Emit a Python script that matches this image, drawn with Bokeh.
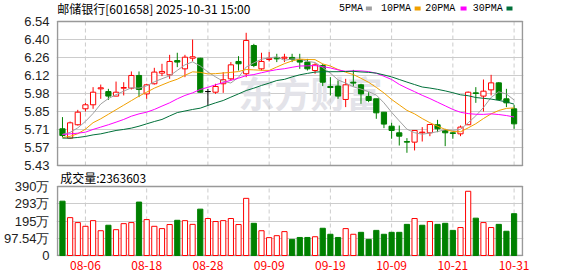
from bokeh.plotting import figure
from bokeh.models import Range1d, FixedTicker
from bokeh.embed import file_html
from bokeh.resources import INLINE
from bokeh.core.properties import value

# ---------------- data ----------------
dates = ["08-01", "08-04", "08-05", "08-06", "08-07", "08-08", "08-11", "08-12", "08-13", "08-14",
         "08-15", "08-18", "08-19", "08-20", "08-21", "08-22", "08-25", "08-26", "08-27", "08-28",
         "08-29", "09-01", "09-02", "09-03", "09-04", "09-05", "09-08", "09-09", "09-10", "09-11",
         "09-12", "09-15", "09-16", "09-17", "09-18", "09-19", "09-22", "09-23", "09-24", "09-25",
         "09-26", "09-29", "09-30", "10-09", "10-10", "10-13", "10-14", "10-15", "10-16", "10-17",
         "10-20", "10-21", "10-22", "10-23", "10-24", "10-27", "10-28", "10-29", "10-30", "10-31"]

opens = [5.713, 5.641, 5.744, 5.867, 5.898, 6.021, 6.000, 5.965, 6.026, 6.026,
         6.124, 5.982, 6.060, 6.142, 6.129, 6.239, 6.175, 6.257, 6.257, 6.000,
         5.995, 6.060, 6.098, 6.232, 6.137, 6.355, 6.175, 6.247, 6.263, 6.257,
         6.263, 6.247, 6.227, 6.162, 6.201, 6.039, 6.042, 5.939, 6.072, 6.052,
         5.962, 5.944, 5.841, 5.733, 5.682, 5.615, 5.610, 5.682, 5.682, 5.744,
         5.700, 5.682, 5.674, 5.744, 5.990, 5.965, 6.013, 6.067, 5.944, 5.867]
highs = [5.803, 5.769, 5.859, 5.913, 6.034, 6.054, 6.021, 6.077, 6.072, 6.155,
         6.155, 6.060, 6.183, 6.214, 6.283, 6.299, 6.283, 6.401, 6.260, 6.020,
         6.060, 6.150, 6.227, 6.273, 6.453, 6.368, 6.299, 6.304, 6.291, 6.291,
         6.291, 6.291, 6.252, 6.219, 6.214, 6.111, 6.085, 6.098, 6.167, 6.060,
         5.995, 5.944, 5.841, 5.759, 5.738, 5.641, 5.700, 5.726, 5.751, 5.782,
         5.713, 5.687, 5.738, 6.000, 6.034, 6.093, 6.129, 6.072, 6.021, 5.898]
lows = [5.648, 5.636, 5.738, 5.846, 5.867, 5.944, 5.936, 5.965, 5.970, 6.016,
        5.957, 5.944, 6.054, 6.119, 6.098, 6.188, 6.111, 6.232, 5.990, 5.890,
        5.982, 5.990, 6.085, 6.162, 6.111, 6.188, 6.162, 6.232, 6.227, 6.227,
        6.227, 6.175, 6.162, 6.137, 6.042, 5.970, 5.944, 5.880, 6.039, 5.906,
        5.918, 5.790, 5.718, 5.636, 5.584, 5.528, 5.546, 5.615, 5.656, 5.687,
        5.579, 5.636, 5.656, 5.744, 5.913, 5.846, 5.970, 5.931, 5.880, 5.713]
closes = [5.661, 5.759, 5.841, 5.898, 5.995, 6.029, 5.965, 5.995, 6.031, 6.124,
          6.016, 6.052, 6.150, 6.155, 6.232, 6.227, 6.265, 6.268, 5.995, 6.000,
          6.039, 6.091, 6.206, 6.214, 6.394, 6.201, 6.232, 6.257, 6.252, 6.265,
          6.247, 6.227, 6.175, 6.206, 6.072, 6.031, 5.965, 6.052, 6.065, 5.982,
          5.931, 5.836, 5.749, 5.700, 5.656, 5.610, 5.700, 5.687, 5.746, 5.713,
          5.682, 5.677, 5.726, 5.995, 5.985, 6.003, 6.067, 5.939, 5.913, 5.751]

ma5 = [5.670, 5.685, 5.720, 5.770, 5.831, 5.904, 5.946, 5.976, 6.003, 6.029,
       6.026, 6.044, 6.075, 6.099, 6.121, 6.163, 6.206, 6.229, 6.197, 6.151,
       6.113, 6.079, 6.066, 6.110, 6.189, 6.221, 6.249, 6.260, 6.267, 6.241,
       6.251, 6.250, 6.233, 6.224, 6.185, 6.142, 6.090, 6.065, 6.037, 6.019,
       5.999, 5.973, 5.913, 5.840, 5.774, 5.710, 5.683, 5.671, 5.680, 5.691,
       5.706, 5.701, 5.709, 5.759, 5.813, 5.877, 5.955, 5.998, 5.981, 5.935]
ma10 = [5.645, 5.655, 5.675, 5.710, 5.760, 5.790, 5.825, 5.860, 5.895, 5.930,
        5.965, 5.995, 6.026, 6.051, 6.075, 6.095, 6.125, 6.152, 6.148, 6.136,
        6.138, 6.143, 6.148, 6.154, 6.170, 6.167, 6.164, 6.163, 6.189, 6.215,
        6.236, 6.250, 6.247, 6.246, 6.213, 6.197, 6.170, 6.149, 6.131, 6.102,
        6.071, 6.032, 5.989, 5.939, 5.897, 5.855, 5.828, 5.792, 5.760, 5.733,
        5.708, 5.692, 5.690, 5.720, 5.752, 5.792, 5.828, 5.854, 5.870, 5.874]
ma20 = [5.669, 5.674, 5.679, 5.687, 5.708, 5.726, 5.744, 5.764, 5.785, 5.810,
        5.828, 5.841, 5.862, 5.888, 5.913, 5.944, 5.970, 5.990, 6.016, 6.033,
        6.052, 6.069, 6.087, 6.103, 6.123, 6.131, 6.145, 6.158, 6.169, 6.176,
        6.187, 6.197, 6.198, 6.200, 6.192, 6.182, 6.167, 6.156, 6.160, 6.159,
        6.154, 6.141, 6.118, 6.093, 6.055, 6.026, 5.999, 5.971, 5.946, 5.918,
        5.890, 5.862, 5.840, 5.830, 5.825, 5.824, 5.828, 5.823, 5.815, 5.804]
ma30 = [5.641, 5.641, 5.646, 5.654, 5.666, 5.674, 5.687, 5.700, 5.708, 5.718,
        5.733, 5.751, 5.769, 5.785, 5.812, 5.838, 5.850, 5.862, 5.872, 5.893,
        5.913, 5.931, 5.957, 5.982, 6.008, 6.026, 6.047, 6.065, 6.085, 6.094,
        6.113, 6.129, 6.140, 6.150, 6.153, 6.153, 6.153, 6.155, 6.156, 6.151,
        6.148, 6.142, 6.128, 6.113, 6.093, 6.073, 6.054, 6.035, 6.027, 6.017,
        6.005, 5.991, 5.975, 5.968, 5.954, 5.948, 5.942, 5.932, 5.920, 5.903]

# volume in 万 (10k shares); colour as drawn: "u" red hollow, "d" green filled
volumes = [307, 214, 186, 165, 197, 140, 171, 146, 180, 186,
           302, 203, 165, 152, 175, 199, 197, 176, 262, 209,
           192, 197, 209, 175, 323, 182, 140, 101, 112, 135,
           91, 102, 102, 106, 154, 120, 102, 152, 120, 131,
           91, 142, 120, 131, 131, 176, 209, 171, 192, 176,
           182, 142, 158, 363, 211, 186, 158, 176, 137, 236.36]
vol_dir = list("duuuuuduuu" "duuuuduudu" "uuuuuduuuu"
               "ddduddduud" "ddddddudud" "dduuduuddd")

tick_labels = ["08-06", "08-18", "08-28", "09-09", "09-19", "10-09", "10-21", "10-31"]
price_ticks = [5.43, 5.56875, 5.7075, 5.84625, 5.985, 6.12375, 6.2625, 6.40125, 6.54]
price_labels = ["5.43", "5.57", "5.71", "5.85", "5.98", "6.12", "6.26", "6.40", "6.54"]
vol_ticks = [0, 97.5, 195, 292.5, 390]
vol_labels = ["0", "97.54万", "195万", "293万", "390万"]

title_text = "邮储银行[601658] 2025-10-31 15:00"
vol_title = "成交量:2363603"
ma_names = ["5PMA", "10PMA", "20PMA", "30PMA"]
ma_colors = ["#a0a0a0", "#f0a000", "#ff00ff", "#00703a"]

# ---------------- styling / layout constants ----------------
UP = "#ff0000"
DOWN = "#008000"
FLAT = "#000000"
GRID = "#cccccc"
BORDER = "#999999"
LABEL_FONT = "Liberation Sans"
CJK_FONT = "Noto Sans CJK SC"
X_LEFT, X_RIGHT = -0.65, 60.1          # plot box edges (bar-index units)
# vertical layout in pixels (frame spans y = 0 .. 256)
PRICE_TOP_PX, PRICE_BOT_PX = 21, 165
VOL_TOP_PX, VOL_BOT_PX = 186, 255
FRAME_BOT_PX = 256
PX = (price_ticks[-1] - price_ticks[0]) / (PRICE_BOT_PX - PRICE_TOP_PX)
VPX = (vol_ticks[-1] - vol_ticks[0]) / (VOL_BOT_PX - VOL_TOP_PX)

def vol_to_price(v):
    # position of a volume value expressed on the (shared) price scale, for axis ticks
    py = VOL_BOT_PX - (v - vol_ticks[0]) / VPX
    return price_ticks[0] - (py - PRICE_BOT_PX) * PX

x = list(range(len(dates)))
x_ticks = [dates.index(t) for t in tick_labels]

cols = [UP if c > o else (DOWN if c < o else FLAT) for o, c in zip(opens, closes)]
fills = ["#ffffff" if c > o else col for o, c, col in zip(opens, closes, cols)]
tops = [max(o, c) for o, c in zip(opens, closes)]
bots = [min(o, c) for o, c in zip(opens, closes)]

vcols = [UP if d == "u" else DOWN for d in vol_dir]
vfills = ["#ffffff" if d == "u" else DOWN for d in vol_dir]

xr = Range1d(X_LEFT - 0.13, X_RIGHT + 0.13)
yr = Range1d(price_ticks[0] - (FRAME_BOT_PX - PRICE_BOT_PX) * PX, price_ticks[-1] + PRICE_TOP_PX * PX)
vr = Range1d(vol_ticks[0] - (FRAME_BOT_PX - VOL_BOT_PX) * VPX, vol_ticks[-1] + VOL_TOP_PX * VPX)

p = figure(width=578, height=276, x_range=xr, y_range=yr,
           output_backend="svg", toolbar_location=None,
           min_border_left=54, min_border_right=55, min_border_top=0, min_border_bottom=20)
p.extra_y_ranges = {"vol": vr}
p.outline_line_color = None
p.background_fill_color = "#ffffff"
p.border_fill_color = "#ffffff"

# y axis: price ticks (upper panel) + volume ticks (lower panel)
vol_tick_pos = [vol_to_price(v) for v in vol_ticks]
all_ticks = price_ticks + vol_tick_pos
all_labels = price_labels + vol_labels
p.yaxis.ticker = FixedTicker(ticks=all_ticks)
p.yaxis.major_label_overrides = dict(zip(all_ticks, all_labels))
p.yaxis.axis_line_color = None
p.yaxis.major_tick_line_color = None
p.yaxis.minor_tick_line_color = None
p.yaxis.major_label_standoff = 1
p.yaxis.major_label_text_font = LABEL_FONT
p.yaxis.major_label_text_font_size = "13px"
p.yaxis.major_label_text_color = "#222222"
p.ygrid.grid_line_color = GRID

# x axis: dates
p.xaxis.ticker = FixedTicker(ticks=x_ticks)
p.xaxis.major_label_overrides = dict(zip(x_ticks, tick_labels))
p.xaxis.axis_line_color = None
p.xaxis.major_tick_line_color = None
p.xaxis.minor_tick_line_color = None
p.xaxis.major_label_standoff = -2
p.xaxis.major_label_text_font = CJK_FONT
p.xaxis.major_label_text_font_size = "12px"
p.xaxis.major_label_text_color = UP
p.xgrid.visible = False

# watermark
p.text(x=[23.0], y=[6.0], text=["东方财富"], text_font=value(CJK_FONT),
       text_font_size="36px", text_font_style="bold", text_color="#e3e3e9",
       text_align="left", text_baseline="middle")

# price panel: dashed verticals + border
p.segment(x0=x_ticks, y0=price_ticks[0], x1=x_ticks, y1=price_ticks[-1],
          line_color=GRID, line_dash="4 3", line_width=1)
p.quad(left=X_LEFT, right=X_RIGHT, bottom=price_ticks[0], top=price_ticks[-1],
       fill_color=None, line_color=BORDER, line_width=1.5)

# candles
p.segment(x0=x, y0=lows, x1=x, y1=highs, line_color=cols, line_width=1)
p.vbar(x=x, width=0.68, top=tops, bottom=bots, fill_color=fills, line_color=cols, line_width=1)

# moving averages
for vals, c in zip([ma5, ma10, ma20, ma30], ma_colors):
    p.line(x, vals, line_color=c, line_width=1)

# header: title + legend
head_y = price_ticks[-1] + 13 * PX
p.text(x=[X_LEFT - 0.03], y=[head_y], text=[title_text], text_font=value(CJK_FONT),
       text_font_size="12px", text_color="#000000", text_baseline="middle", text_align="left")
p.text(x=[36.13, 41.6, 47.4, 53.6], y=[head_y] * 4, text=ma_names,
       text_font=value("Liberation Mono"), text_font_size="10px", text_color="#000000",
       text_baseline="middle", text_align="left")
p.rect(x=[40.03, 46.4, 52.4, 58.4], y=[head_y] * 4, width=6, height=4,
       width_units="screen", height_units="screen", fill_color=ma_colors, line_color=None)

# volume panel
p.segment(x0=x_ticks, y0=vol_ticks[0], x1=x_ticks, y1=vol_ticks[-1],
          line_color=GRID, line_dash="4 3", line_width=1, y_range_name="vol")
p.quad(left=X_LEFT, right=X_RIGHT, bottom=vol_ticks[0], top=vol_ticks[-1],
       fill_color=None, line_color=BORDER, line_width=1.5, y_range_name="vol")
p.vbar(x=x, width=0.68, top=volumes, bottom=0, fill_color=vfills, line_color=vcols,
       line_width=1, y_range_name="vol")
p.text(x=[-0.3], y=[vol_ticks[-1] + 9.5 * VPX], text=[vol_title], text_font=value(CJK_FONT),
       text_font_size="12px", text_color="#000000", text_baseline="middle", text_align="left",
       y_range_name="vol")

open("out.html", "w").write(file_html(p, INLINE))
